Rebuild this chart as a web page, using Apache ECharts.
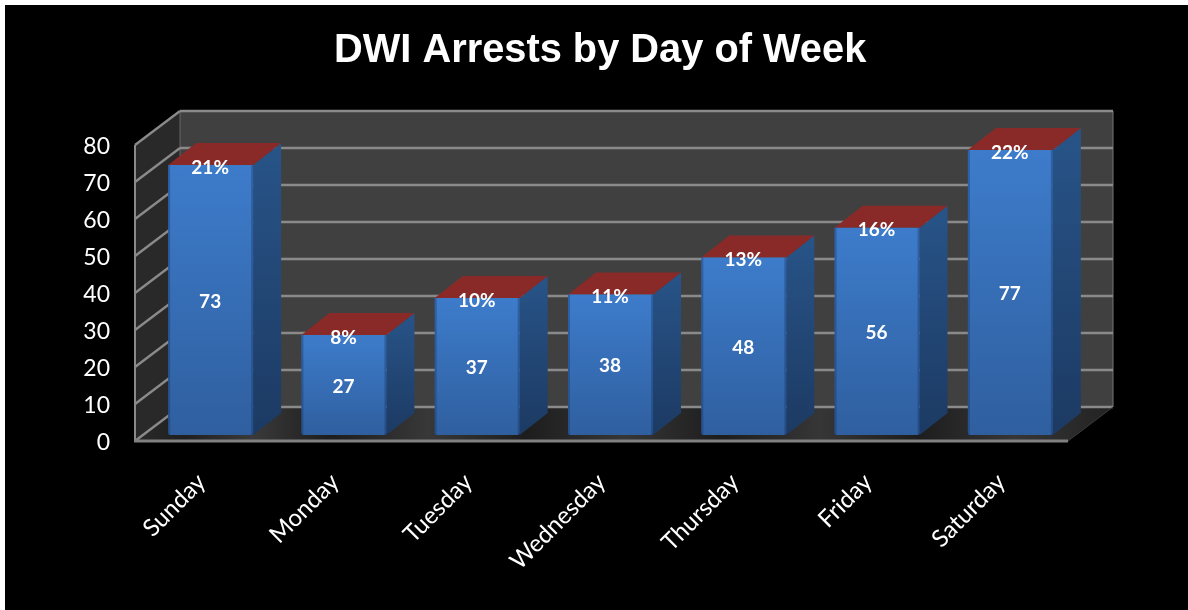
<!DOCTYPE html>
<html><head><meta charset="utf-8">
<style>html,body{margin:0;padding:0;background:#fff}#c{position:absolute;left:5px;top:5px;width:1183px;height:605px;background:#000}</style>
<script src="https://cdn.jsdelivr.net/npm/echarts@6/dist/echarts.min.js"></script>
</head><body><div id="c"></div>
<script>
const categories = ['Sunday','Monday','Tuesday','Wednesday','Thursday','Friday','Saturday'];
const arrests = [73,27,37,38,48,56,77];
const shares = ['21%','8%','10%','11%','13%','16%','22%'];
const ticks = [0,10,20,30,40,50,60,70,80];

const WALL_DX = 45, WALL_DY = -34;      // depth of the chart box
const BAR_DX0 = 9, BAR_DY0 = -6;        // bar front relative to the front plane
const BAR_DX = 28, BAR_DY = -22;        // bar depth
const BAR_W = 85;
const LINE = '#8a8a8a';

const chart = echarts.init(document.getElementById('c'), null, {renderer:'canvas'});

function poly(points, fill, extra){
  return Object.assign({type:'polygon', shape:{points}, style:{fill}, silent:true}, extra||{});
}
function seg(x1,y1,x2,y2,w,c){
  return {type:'line', shape:{x1,y1,x2,y2}, style:{stroke:c||LINE, lineWidth:w||2}, silent:true};
}
function grad(x0,y0,x1,y1,stops){
  return new echarts.graphic.LinearGradient(x0,y0,x1,y1,stops.map(c=>({offset:c[0],color:c[1]})));
}

function renderWalls(params, api){
  const cs = params.coordSys;
  const L=cs.x, R=cs.x+cs.width, T=cs.y, B=cs.y+cs.height;
  const dx=WALL_DX, dy=WALL_DY;
  return {type:'group', children:[
    poly([[L,T],[L+dx,T+dy],[L+dx,B+dy],[L,B]], '#292929'),
    poly([[L+dx,T+dy],[R+dx,T+dy],[R+dx,B+dy],[L+dx,B+dy]], '#404040'),
    poly([[L,B],[R,B],[R+dx,B+dy],[L+dx,B+dy]], grad(0,0,1,0,[
      [0,'#2a2a2a'],[0.05,'#1f1f1f'],[0.12,'#3a3a3a'],[0.2,'#1d1d1d'],[0.3,'#383838'],[0.4,'#1d1d1d'],
      [0.5,'#363636'],[0.6,'#1d1d1d'],[0.7,'#363636'],[0.8,'#1d1d1d'],[0.9,'#363636'],[1,'#222222']])),
    seg(L,T,L,B,2), seg(L+dx,T+dy,L+dx,B+dy,1,'#666'), seg(R+dx,T+dy,R+dx,B+dy,1,'#777')
  ]};
}
function renderGridline(params, api){
  const cs = params.coordSys;
  const L=cs.x, R=cs.x+cs.width;
  const y = api.coord([0, api.value(0)])[1];
  const kids = [
    seg(L,y,L+WALL_DX,y+WALL_DY,2.4),
    seg(L+WALL_DX,y+WALL_DY,R+WALL_DX,y+WALL_DY,2.4)
  ];
  if (api.value(0) === 0) {
    kids.push(seg(L-1,y,R,y,3,'#808080'));
    kids.push(seg(R,y,R+WALL_DX,y+WALL_DY,1,'#3a3a3a'));
  }
  return {type:'group', children:kids};
}
function renderBar(params, api){
  const i = api.value(0), v = api.value(1);
  const cx = api.coord([i,0])[0] + BAR_DX0;
  const y0 = api.coord([i,0])[1] + BAR_DY0;
  const y1 = api.coord([i,v])[1] + BAR_DY0;
  const x0 = cx - BAR_W/2, x1 = cx + BAR_W/2;
  const dx=BAR_DX, dy=BAR_DY;
  return {type:'group', children:[
    poly([[x1,y1],[x1+dx,y1+dy],[x1+dx,y0+dy],[x1,y0]], grad(0,0,0,1,[[0,'#285488'],[1,'#1c3a63']])),
    poly([[x0,y1],[x1,y1],[x1+dx,y1+dy],[x0+dx,y1+dy]], '#892a28'),
    {type:'rect', shape:{x:x0,y:y1,width:x1-x0,height:y0-y1,r:[0,0,2,2]}, silent:true,
      style:{fill:grad(0,0,0,1,[[0,'#3d7ccb'],[1,'#2f5f9f']])}},
    {type:'rect', shape:{x:x0,y:y1,width:2,height:y0-y1}, silent:true, style:{fill:'rgba(20,50,100,0.35)'}},
    {type:'rect', shape:{x:x1-2,y:y1,width:2,height:y0-y1}, silent:true, style:{fill:'rgba(20,50,100,0.35)'}},
    {type:'text', silent:true, style:{x:(x0+x1)/2-0.5,y:(y0+y1)/2+1.5,text:String(v),fill:'#fff',
      font:'bold 19px Lato',align:'center',verticalAlign:'middle'}},
    {type:'text', silent:true, style:{x:(x0+x1)/2-0.5,y:y1+2.5,text:shares[i],fill:'#fff',
      font:'bold 19px Lato',align:'center',verticalAlign:'middle'}}
  ]};
}

chart.setOption({
  backgroundColor:'#000',
  animation:false,
  title:{text:'DWI Arrests by Day of Week',left:324,top:21,
    textStyle:{color:'#fff',fontFamily:'Liberation Sans',fontWeight:'bold',fontSize:39.8}},
  grid:{left:130,right:120,top:140,bottom:169,containLabel:false},
  xAxis:{type:'category',data:categories,
    axisLine:{show:false},axisTick:{show:false},splitLine:{show:false},
    axisLabel:{color:'#fff',fontFamily:'Lato',fontSize:24,rotate:45,margin:37,interval:0}},
  yAxis:{type:'value',min:0,max:80,interval:10,
    axisLine:{show:false},axisTick:{show:false},splitLine:{show:false},
    axisLabel:{color:'#fff',fontFamily:'Lato',fontSize:23,margin:25,verticalAlign:'top',lineHeight:23,padding:[-10,0,0,0]}},
  series:[
    {type:'custom',coordinateSystem:'cartesian2d',data:[0],renderItem:renderWalls,silent:true,z:1,encode:{x:-1,y:-1}},
    {type:'custom',coordinateSystem:'cartesian2d',data:ticks.map(t=>[t]),renderItem:renderGridline,silent:true,z:2,encode:{y:0}},
    {type:'custom',coordinateSystem:'cartesian2d',data:arrests.map((v,i)=>[i,v]),renderItem:renderBar,silent:true,z:3,encode:{x:0,y:1}}
  ]
});
</script></body></html>
